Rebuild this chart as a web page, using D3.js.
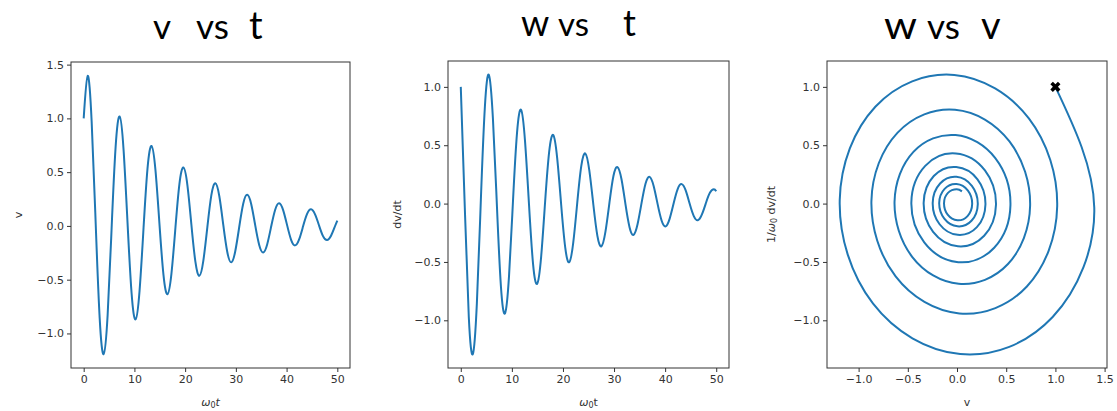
<!DOCTYPE html>
<html><head><meta charset="utf-8">
<script src="https://cdn.jsdelivr.net/npm/d3@7"></script>
<style>body{margin:0;background:#fff}svg{display:block}</style>
</head><body><svg id="c" width="1117" height="411"></svg>
<script>
// time samples (ω0 t)
const tVals=[0,0.79,1.57,2.36,3.15,3.93,4.72,5.50,6.29,7.08,7.86,8.65,9.44,10.22,11.01,11.80,12.58,13.37,14.15,14.94,15.73,16.51,17.30,18.09,18.87,19.66,20.45,21.23,22.02,22.81,23.59,24.38,25.16,25.95,26.74,27.52,28.31,29.10,29.88,30.67,31.46,32.24,33.03,33.81,34.60,35.39,36.17,36.96,37.75,38.53,39.32,40.11,40.89,41.68,42.47,43.25,44.04,44.82,45.61,46.40,47.18,47.97,48.76,49.54,50];
// v values
const vVals=[1.000,1.395,0.972,0.032,-0.855,-1.192,-0.830,-0.028,0.730,1.018,0.710,0.024,-0.624,-0.870,-0.606,-0.020,0.533,0.743,0.518,0.017,-0.456,-0.635,-0.443,-0.015,0.389,0.543,0.378,0.013,-0.333,-0.464,-0.323,-0.011,0.284,0.396,0.276,0.009,-0.243,-0.339,-0.236,-0.008,0.208,0.289,0.202,0.007,-0.177,-0.247,-0.172,-0.006,0.151,0.211,0.147,0.005,-0.129,-0.181,-0.126,-0.004,0.111,0.154,0.107,0.004,-0.095,-0.132,-0.092,-0.003,0.050];
// w = dv/dt values
const wVals=[1.000,-0.035,-0.972,-1.289,-0.855,0.030,0.830,1.102,0.730,-0.025,-0.710,-0.941,-0.624,0.022,0.606,0.804,0.533,-0.019,-0.518,-0.687,-0.456,0.016,0.443,0.587,0.389,-0.014,-0.378,-0.502,-0.333,0.012,0.323,0.429,0.284,-0.010,-0.276,-0.366,-0.243,0.008,0.236,0.313,0.208,-0.007,-0.202,-0.268,-0.177,0.006,0.172,0.229,0.151,-0.005,-0.147,-0.195,-0.129,0.005,0.126,0.167,0.111,-0.004,-0.107,-0.143,-0.095,0.003,0.092,0.122,0.105];
const startPoint=[1,1];
const tTicks=[0,10,20,30,40,50];
const vTicks=[-1.0,-0.5,0.0,0.5,1.0,1.5];
const wTicks=[-1.0,-0.5,0.0,0.5,1.0];

const svg=d3.select('#c');
const blue='#1f77b4', ink='#333';
function pad(ext){const r=ext[1]-ext[0];return [ext[0]-0.05*r,ext[1]+0.05*r];}
const tDom=pad(d3.extent(tVals)), vDom=pad(d3.extent(vVals)), wDom=pad(d3.extent(wVals));

const panels=[
 {box:[71,350,62,368], xs:tVals, ys:vVals, xDom:tDom, yDom:vDom, xT:tTicks, yT:vTicks, xf:d3.format('d'), ylab:'v', ylx:22, xlab:'t1'},
 {box:[448,729,61,368], xs:tVals, ys:wVals, xDom:tDom, yDom:wDom, xT:tTicks, yT:wTicks, xf:d3.format('d'), ylab:'dv/dt', ylx:401, xlab:'t2'},
 {box:[827,1107,61,368], xs:vVals, ys:wVals, xDom:vDom, yDom:wDom, xT:vTicks, yT:wTicks, xf:d3.format('.1f'), ylab:'w', ylx:775, xlab:'v', marker:true}
];

panels.forEach(p=>{
  const [l,r,t,b]=p.box;
  const x=d3.scaleLinear().domain(p.xDom).range([l,r]);
  const y=d3.scaleLinear().domain(p.yDom).range([b,t]);
  const g=svg.append('g');
  const xa=g.append('g').attr('transform',`translate(0,${b})`)
    .call(d3.axisBottom(x).tickValues(p.xT).tickFormat(p.xf).tickSize(4).tickPadding(3));
  const ya=g.append('g').attr('transform',`translate(${l},0)`)
    .call(d3.axisLeft(y).tickValues(p.yT).tickFormat(d3.format('.1f')).tickSize(4).tickPadding(3));
  [xa,ya].forEach(a=>{
    a.select('.domain').remove();
    a.selectAll('line').attr('stroke',ink).attr('stroke-width',1);
    a.selectAll('text').attr('fill',ink).style('font-family','DejaVu Sans').style('font-size','11px');
  });
  const line=d3.line().x((d,i)=>x(p.xs[i])).y((d,i)=>y(p.ys[i])).curve(d3.curveNatural);
  g.append('path').attr('d',line(p.xs)).attr('fill','none').attr('stroke',blue).attr('stroke-width',2);
  g.append('rect').attr('x',l).attr('y',t).attr('width',r-l).attr('height',b-t)
    .attr('fill','none').attr('stroke',ink).attr('stroke-width',1);
  if(p.marker){
    const cx=x(startPoint[0]), cy=y(startPoint[1]);
    g.append('path').attr('d',d3.symbol(d3.symbolCross,64)()).attr('transform',`translate(${cx},${cy}) rotate(45)`).attr('fill','#000');
  }
  const yl=g.append('text').attr('transform',`translate(${p.ylx},${(t+b)/2}) rotate(-90)`)
    .attr('text-anchor','middle').attr('fill',ink).style('font-family','DejaVu Sans').style('font-size','11px');
  if(p.ylab==='w'){
    yl.append('tspan').text('1/');
    yl.append('tspan').style('font-style','italic').text('ω');
    yl.append('tspan').style('font-size','8px').attr('dy',2).text('0');
    yl.append('tspan').attr('dy',-2).text(' dv/dt');
  } else yl.text(p.ylab);
  const xl=g.append('text').attr('x',(l+r)/2).attr('y',406).attr('text-anchor','middle')
    .attr('fill',ink).style('font-family','DejaVu Sans').style('font-size','11px');
  if(p.xlab==='v') xl.text('v');
  else {
    xl.append('tspan').style('font-style','italic').text('ω');
    xl.append('tspan').style('font-size','8px').attr('dy',2).text('0');
    xl.append('tspan').attr('dy',-2).style('font-style',p.xlab==='t1'?'italic':'normal').text('t');
  }
});

// titles: [word, x start, stretched width or 0, font size], baseline
const titleWords=[
 [['v',153,0,35],['vs',196,0,35],['t',249,0,38],39],
 [['w',521,0,36],['vs',558,0,33],['t',623,0,36],36],
 [['w',884,33,39],['vs',927,0,35],['v',981,0,38],39]
];
titleWords.forEach(tw=>{
  const base=tw[3];
  tw.slice(0,3).forEach(([s,xx,wd,fs])=>{
    const el=svg.append('text').attr('x',xx).attr('y',base).text(s)
      .style('font-family','Lato, "Open Sans", sans-serif').style('font-size',fs+'px').attr('fill','#000');
    if(wd) el.attr('textLength',wd).attr('lengthAdjust','spacingAndGlyphs');
  });
});
</script></body></html>
